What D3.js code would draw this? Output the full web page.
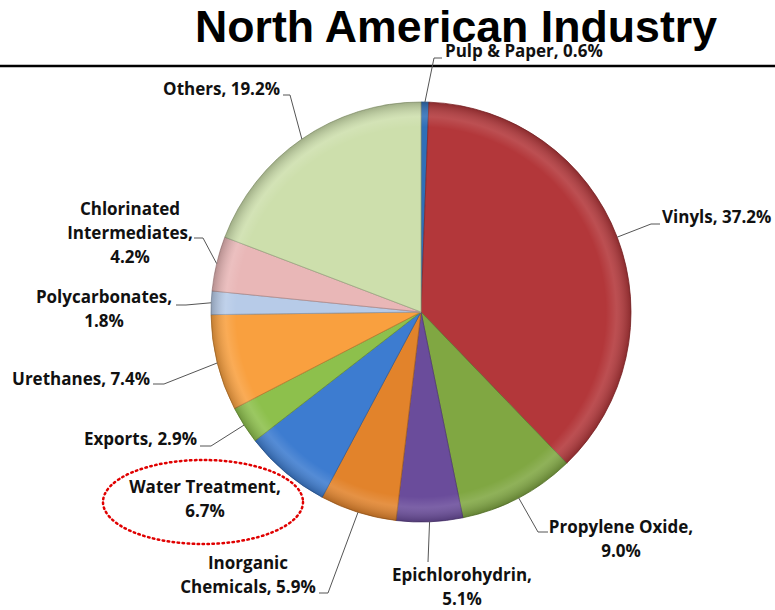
<!DOCTYPE html>
<html>
<head>
<meta charset="utf-8">
<script src="https://cdn.jsdelivr.net/npm/d3@7"></script>
<style>
  body { margin: 0; background: #fff; }
  svg { display: block; }
  .lbl { font-family: "Open Sans", Lato, sans-serif; font-weight: bold; font-size: 17px; fill: #111; }
</style>
</head>
<body>
<script>
// slice data, clockwise from 12 o'clock
const categories = ['Pulp & Paper', 'Vinyls', 'Propylene Oxide', 'Epichlorohydrin', 'Inorganic Chemicals',
  'Water Treatment', 'Exports', 'Urethanes', 'Polycarbonates', 'Chlorinated Intermediates', 'Others'];
const shares = [0.6, 37.2, 9.0, 5.1, 5.9, 6.7, 2.9, 7.4, 1.8, 4.2, 19.2];
const colors = ['#2f6fb8', '#b3373a', '#80a742', '#6a4c9b', '#e2832b', '#3d7cd0', '#8dc04c', '#f9a03f',
  '#b7cbe8', '#e9b7b7', '#cddfac'];

// label layout: text lines, text position, leader elbow + end (null = no leader)
const labelLayout = [
  { lines: ['Pulp & Paper, 0.6%'], x: 445, y: 57, anchor: 'start', elbow: [434, 58], end: [442, 58] },
  { lines: ['Vinyls, 37.2%'], x: 662, y: 223, anchor: 'start', elbow: [651, 224], end: [660, 224] },
  { lines: ['Propylene Oxide,', '9.0%'], x: 621, y: 533, anchor: 'middle', elbow: [538, 532], end: [548, 532] },
  { lines: ['Epichlorohydrin,', '5.1%'], x: 462, y: 581, anchor: 'middle', elbow: [428, 562], end: [428, 562] },
  { lines: ['Inorganic', 'Chemicals, 5.9%'], x: 248, y: 569, anchor: 'middle', elbow: [328, 593], end: [319, 593] },
  { lines: ['Water Treatment,', '6.7%'], x: 205, y: 493, anchor: 'middle', elbow: null },
  { lines: ['Exports, 2.9%'], x: 197, y: 445, anchor: 'end', elbow: [211, 446], end: [200, 446] },
  { lines: ['Urethanes, 7.4%'], x: 150, y: 385, anchor: 'end', elbow: [164, 384], end: [153, 384] },
  { lines: ['Polycarbonates,', '1.8%'], x: 104, y: 303, anchor: 'middle', elbow: [186, 305], end: [176, 305] },
  { lines: ['Chlorinated', 'Intermediates,', '4.2%'], x: 130, y: 215, anchor: 'middle', elbow: [203, 238], end: [194, 238] },
  { lines: ['Others, 19.2%'], x: 280, y: 95, anchor: 'end', elbow: [290, 95], end: [283, 95] }
];

const W = 775, H = 610;
const cx = 421, cy = 312, R = 210;

const svg = d3.select('body').append('svg').attr('width', W).attr('height', H);
const defs = svg.append('defs');

// soft bevel look (gradient centred on the pie group origin)
const shade = defs.append('radialGradient').attr('id', 'shade')
  .attr('gradientUnits', 'userSpaceOnUse').attr('cx', 0).attr('cy', 0).attr('r', R);
shade.append('stop').attr('offset', '0%').attr('stop-color', '#fff').attr('stop-opacity', 0);
shade.append('stop').attr('offset', '88%').attr('stop-color', '#fff').attr('stop-opacity', 0);
shade.append('stop').attr('offset', '93%').attr('stop-color', '#fff').attr('stop-opacity', 0.12);
shade.append('stop').attr('offset', '100%').attr('stop-color', '#000').attr('stop-opacity', 0.22);

// title
svg.append('text')
  .attr('x', 195).attr('y', 42)
  .attr('textLength', 522).attr('lengthAdjust', 'spacingAndGlyphs')
  .style('font-family', '"Liberation Sans", Arial, sans-serif')
  .style('font-weight', 'bold').style('font-size', '45px').style('fill', '#000')
  .text('North American Industry');

svg.append('line').attr('x1', 0).attr('x2', W).attr('y1', 66).attr('y2', 66)
  .attr('stroke', '#000').attr('stroke-width', 2.5);

const pie = d3.pie().sort(null).value(d => d)(shares);
const arc = d3.arc().innerRadius(0).outerRadius(R);

const g = svg.append('g').attr('transform', `translate(${cx},${cy})`);

g.selectAll('path.slice')
  .data(pie)
  .join('path')
  .attr('class', 'slice')
  .attr('d', arc)
  .attr('fill', (d, i) => colors[i])
  .attr('stroke', (d, i) => d3.color(colors[i]).darker(0.8))
  .attr('stroke-width', 0.8);

g.selectAll('path.shade')
  .data(pie)
  .join('path')
  .attr('class', 'shade')
  .attr('d', arc)
  .attr('fill', 'url(#shade)');

// leader lines
const edge = d3.arc().innerRadius(R).outerRadius(R);
pie.forEach((d, i) => {
  const L = labelLayout[i];
  if (!L.elbow) return;
  const p = edge.centroid(d);
  const pts = [[cx + p[0], cy + p[1]], L.elbow, L.end];
  svg.append('path')
    .attr('d', d3.line()(pts))
    .attr('fill', 'none').attr('stroke', '#555').attr('stroke-width', 1);
});

// labels
labelLayout.forEach(L => {
  const t = svg.append('text').attr('class', 'lbl')
    .attr('text-anchor', L.anchor);
  L.lines.forEach((s, k) => {
    t.append('tspan').attr('x', L.x).attr('y', L.y + k * 24).text(s);
  });
});

// highlight ring around Water Treatment
svg.append('ellipse')
  .attr('cx', 203).attr('cy', 502).attr('rx', 100).attr('ry', 42)
  .attr('fill', 'none').attr('stroke', '#e00000').attr('stroke-width', 2.5)
  .attr('stroke-dasharray', '1.5 3.5').attr('stroke-linecap', 'round');
</script>
</body>
</html>
